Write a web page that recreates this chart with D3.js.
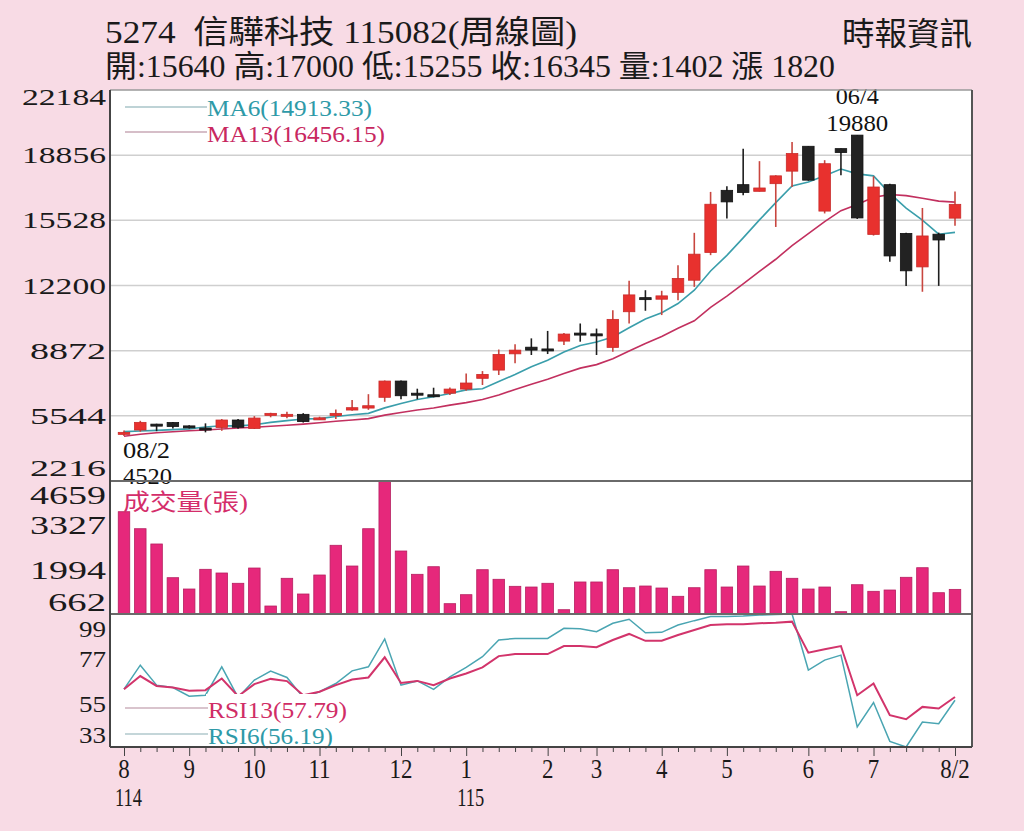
<!DOCTYPE html>
<html>
<head>
<meta charset="utf-8">
<script src="https://d3js.org/d3.v7.min.js"></script>
<style>
  body { margin: 0; background: #f8dbe5; }
  svg { display: block; }
  text { font-family: "Liberation Serif", "Noto Sans CJK TC", serif; }
</style>
</head>
<body>
<div class="chart"></div>
<script>
// weekly bars, 114/08 week 2 -> 115/08 week 2
var weeks = ["114/08/2","114/08/3","114/08/4","114/08/5","114/09/1","114/09/2","114/09/3","114/09/4",
  "114/10/1","114/10/2","114/10/3","114/10/4","114/11/1","114/11/2","114/11/3","114/11/4","114/11/5",
  "114/12/1","114/12/2","114/12/3","114/12/4","115/01/1","115/01/2","115/01/3","115/01/4","115/01/5",
  "115/02/1","115/02/2","115/02/3","115/03/1","115/03/2","115/03/3","115/03/4","115/04/1","115/04/2",
  "115/04/3","115/04/4","115/05/1","115/05/2","115/05/3","115/05/4","115/05/5","115/06/1","115/06/2",
  "115/06/3","115/06/4","115/07/1","115/07/2","115/07/3","115/07/4","115/07/5","115/08/2"];

var opens = [4650,4820,5120,5200,5030,4920,4950,5330,4900,5600,5600,5620,5380,5560,5840,5940,6490,
  7320,6700,6620,6700,6910,7460,7880,8710,9050,8960,9360,9770,9730,9040,10860,11580,11500,11850,
  12470,13890,17060,17350,17010,17400,18040,19310,16000,19190,19880,14810,17350,14860,13150,14820,15640];
var highs = [4800,5290,5140,5230,5060,5160,5380,5380,5530,5700,5750,5680,5500,5870,6350,6650,7350,
  7350,6930,6980,6990,7710,7830,8930,9200,9500,9880,9780,10260,10000,10940,12440,11960,11930,13240,
  14890,16980,17270,19190,18550,17830,19530,19310,18600,19200,19880,17780,17400,14900,16160,14900,17000];
var lows = [4520,4730,4760,4900,4900,4700,4780,4880,4870,5470,5420,5200,5330,5380,5800,5850,6260,
  6390,6390,6490,6610,6830,7120,7630,8230,8650,8700,9160,9330,8650,8820,10260,10910,10690,11450,
  12130,13750,15620,16810,17000,15190,17230,17550,15880,17830,15600,14750,13410,12180,11880,12180,15255];
var closes = [4700,5210,5050,5000,4950,4900,5330,4960,5430,5670,5620,5250,5440,5670,5960,6060,7320,
  6570,6690,6600,6910,7220,7660,8680,8900,8900,8910,9720,9740,9700,10470,11720,11560,11670,12560,
  13800,16350,16470,16950,17180,17800,18940,17580,18420,18990,15650,17230,13710,12950,14730,14525,16345];

var volumes = [3736,3225,2766,1753,1413,2005,1894,1585,2044,902,1735,1263,1834,2727,2104,3225,4659,
  2555,1855,2083,972,1242,1993,1705,1494,1473,1585,791,1624,1624,1993,1452,1503,1443,1194,1452,1993,
  1473,2104,1503,1945,1735,1413,1473,731,1542,1344,1383,1765,2053,1302,1402];

var ma6 = [4740,4770,4800,4840,4880,4970,5040,5030,5090,5210,5300,5380,5400,5510,5600,5670,5950,
  6170,6380,6520,6680,6870,6930,7300,7650,8050,8380,8800,9140,9310,9570,10040,10490,10810,11280,
  11960,12940,13740,14630,15550,16430,17280,17490,17810,18150,17900,17800,16900,16150,15540,14820,14913.33];
var ma13 = [4500,4600,4680,4730,4780,4820,4870,4920,4960,5010,5060,5120,5190,5270,5330,5400,5580,
  5710,5840,5940,6090,6220,6380,6610,6890,7160,7410,7700,7980,8160,8460,8850,9240,9600,10020,
  10400,11080,11660,12280,12920,13540,14240,14850,15460,16020,16340,16700,16850,16790,16660,16510,16456.15];

var rsi6 = [61.7,73.6,63.7,62.5,58.2,58.7,72.8,57.6,66.2,70.7,67.5,57.6,60.4,64.5,70.8,72.8,86.6,
  63.7,65.8,61.6,67.8,72.5,77.8,86.1,86.9,86.9,86.9,91.9,91.7,90.2,94.4,96.4,89.7,89.9,93.5,95.7,
  97.7,97.7,98.0,98.5,98.7,99.0,71.2,76.1,78.6,43.0,55.1,35.8,33.0,45.4,44.6,56.19];
var rsi13 = [61.7,68.2,63.3,62.5,60.9,61.2,67.0,58.2,64.2,66.8,65.7,58.7,60.4,63.7,66.5,67.5,77.5,
  64.8,65.8,63.7,67.0,69.5,72.5,78.1,79.1,79.1,79.1,83.1,83.1,82.5,86.1,89.1,85.7,85.7,88.6,91.1,
  93.5,93.9,93.9,94.4,94.7,95.2,79.8,81.5,83.1,58.7,64.5,48.8,46.8,52.9,52.1,57.79];

var priceTicks = [2216, 5544, 8872, 12200, 15528, 18856, 22184];
var volTicks = [662, 1994, 3327, 4659];
var rsiTicks = [33, 55, 77, 99];

// month labels under the axis
var monthWeeks = ["114/08/2","114/09/1","114/10/1","114/11/1","114/12/1","115/01/1","115/02/1",
  "115/03/1","115/04/1","115/05/1","115/06/1","115/07/1","115/08/2"];
var monthLabels = ["8","9","10","11","12","1","2","3","4","5","6","7","8/2"];
var yearWeeks = ["114/08/2","115/01/1"];
var yearLabels = ["114","115"];

var svgWidth = 1024;
var svgHeight = 831;

var plot = { left: 110, right: 972, top: 90 };
var panels = {
  price: { top: 90, bottom: 481 },
  vol: { top: 481, bottom: 614 },
  rsi: { top: 614, bottom: 747 }
};

var svg = d3.select(".chart")
  .append("svg")
  .attr("width", svgWidth)
  .attr("height", svgHeight);

svg.append("rect")
  .attr("width", svgWidth)
  .attr("height", svgHeight)
  .attr("fill", "#f8dbe5");

svg.append("rect")
  .attr("x", plot.left)
  .attr("y", plot.top)
  .attr("width", plot.right - plot.left)
  .attr("height", panels.rsi.bottom - plot.top)
  .attr("fill", "#fff");

// scales
var x = d3.scalePoint().domain(weeks).range([124, 955]);
var yPrice = d3.scaleLinear().domain([2216, 22184]).range([panels.price.bottom, panels.price.top]);
var yVol = d3.scaleLinear().domain([662, 4659]).range([panels.vol.bottom, panels.vol.top]);
var yRsi = d3.scaleLinear().domain([33, 99]).range([panels.rsi.bottom, panels.rsi.top]);

var candleW = 11.5;

// clip paths for lines
var defs = svg.append("defs");
Object.keys(panels).forEach(function(k) {
  defs.append("clipPath").attr("id", "clip-" + k)
    .append("rect")
    .attr("x", plot.left)
    .attr("y", panels[k].top)
    .attr("width", plot.right - plot.left)
    .attr("height", panels[k].bottom - panels[k].top);
});

// price grid
svg.append("g")
  .selectAll("line")
  .data(priceTicks.slice(1, -1))
  .enter()
  .append("line")
  .attr("x1", plot.left)
  .attr("x2", plot.right)
  .attr("y1", d => yPrice(d))
  .attr("y2", d => yPrice(d))
  .attr("stroke", "#cfcfcf")
  .attr("stroke-width", 1.5);

// header
function fitText(g, str, xPos, yPos, size, len, color, anchor) {
  return g.append("text")
    .attr("x", xPos)
    .attr("y", yPos)
    .attr("font-size", size)
    .attr("fill", color || "#1a1a1a")
    .attr("text-anchor", anchor || "start")
    .attr("textLength", len)
    .attr("lengthAdjust", "spacingAndGlyphs")
    .text(str);
}

fitText(svg, "5274\u00a0\u00a0信驊科技 115082(周線圖)", 105, 43, 32, 472);
fitText(svg, "時報資訊", 842, 45, 32, 130);
fitText(svg, "開:" + opens[51] + " 高:" + highs[51] + " 低:" + lows[51] + " 收:" + closes[51] +
  " 量:" + volumes[51] + " 漲 1820", 105, 77, 31, 730);

// moving averages
var priceG = svg.append("g").attr("clip-path", "url(#clip-price)");

var line = function(values, scale) {
  return d3.line()
    .x((d, i) => x(weeks[i]))
    .y(d => scale(d))(values);
};

priceG.append("path")
  .attr("d", line(ma13, yPrice))
  .attr("fill", "none")
  .attr("stroke", "#c2305f")
  .attr("stroke-width", 1.6);

priceG.append("path")
  .attr("d", line(ma6, yPrice))
  .attr("fill", "none")
  .attr("stroke", "#3a9eab")
  .attr("stroke-width", 1.6);

// candles
var candles = priceG.selectAll(".candle")
  .data(weeks.map((w, i) => ({ w: w, o: opens[i], h: highs[i], l: lows[i], c: closes[i] })))
  .enter()
  .append("g")
  .attr("class", "candle");

candles.append("line")
  .attr("x1", d => x(d.w))
  .attr("x2", d => x(d.w))
  .attr("y1", d => yPrice(d.h))
  .attr("y2", d => yPrice(d.l))
  .attr("stroke", d => d.c >= d.o ? "#c8463f" : "#1e1e1e")
  .attr("stroke-width", 1.6);

candles.append("rect")
  .attr("x", d => x(d.w) - candleW / 2)
  .attr("width", candleW)
  .attr("y", d => yPrice(Math.max(d.o, d.c)))
  .attr("height", d => Math.max(2, Math.abs(yPrice(d.o) - yPrice(d.c))))
  .attr("fill", d => d.c >= d.o ? "#e8312e" : "#222")
  .attr("stroke", d => d.c >= d.o ? "#c92b2a" : "#111")
  .attr("stroke-width", 0.8);

// price legend
svg.append("line").attr("x1", 125).attr("x2", 207).attr("y1", 107).attr("y2", 107)
  .attr("stroke", "#a9c4c8").attr("stroke-width", 1.5);
svg.append("line").attr("x1", 125).attr("x2", 207).attr("y1", 132).attr("y2", 132)
  .attr("stroke", "#c9a9b6").attr("stroke-width", 1.5);
fitText(svg, "MA6(" + ma6[51].toFixed(2) + ")", 207, 116, 24, 165, "#2e9aa8");
fitText(svg, "MA13(" + ma13[51].toFixed(2) + ")", 207, 142, 24, 178, "#c8285f");

// high / low notes
var hiIdx = highs.indexOf(d3.max(highs));
var loIdx = lows.indexOf(d3.min(lows));
fitText(svg, weeks[hiIdx].slice(4), x(weeks[hiIdx]), 104, 24, 43, "#111", "middle");
fitText(svg, String(highs[hiIdx]), x(weeks[hiIdx]), 131, 24, 62, "#111", "middle");
fitText(svg, weeks[loIdx].slice(4), 123, 458, 23, 47, "#111");
fitText(svg, String(lows[loIdx]), 123, 484, 23, 49, "#111");

// volume bars
svg.append("g")
  .attr("clip-path", "url(#clip-vol)")
  .selectAll("rect")
  .data(volumes)
  .enter()
  .append("rect")
  .attr("x", (d, i) => x(weeks[i]) - candleW / 2)
  .attr("width", candleW)
  .attr("y", d => yVol(d))
  .attr("height", d => yVol(662) - yVol(d))
  .attr("fill", "#e6287b")
  .attr("stroke", "#b61f60")
  .attr("stroke-width", 0.8);

fitText(svg, "成交量(張)", 123, 510, 23, 125, "#d42d6a");

// rsi lines
var rsiG = svg.append("g").attr("clip-path", "url(#clip-rsi)");

rsiG.append("path")
  .attr("d", line(rsi6, yRsi))
  .attr("fill", "none")
  .attr("stroke", "#4aa5b2")
  .attr("stroke-width", 1.5);

rsiG.append("path")
  .attr("d", line(rsi13, yRsi))
  .attr("fill", "none")
  .attr("stroke", "#d2346b")
  .attr("stroke-width", 2);

// rsi legend sits on a white box
svg.append("rect").attr("x", 206).attr("y", 694).attr("width", 143).attr("height", 52).attr("fill", "#fff");
svg.append("line").attr("x1", 125).attr("x2", 208).attr("y1", 708).attr("y2", 708)
  .attr("stroke", "#cdb0bc").attr("stroke-width", 1.5);
svg.append("line").attr("x1", 125).attr("x2", 208).attr("y1", 734).attr("y2", 734)
  .attr("stroke", "#b0c8cc").attr("stroke-width", 1.5);
fitText(svg, "RSI13(" + rsi13[51].toFixed(2) + ")", 208, 718, 23, 139, "#d02d66");
fitText(svg, "RSI6(" + rsi6[51].toFixed(2) + ")", 208, 744, 23, 125, "#2e9aa8");

// panel separators and frame
[panels.price.bottom, panels.vol.bottom].forEach(function(yy) {
  svg.append("line")
    .attr("x1", plot.left).attr("x2", plot.right)
    .attr("y1", yy).attr("y2", yy)
    .attr("stroke", "#6a6a6a")
    .attr("stroke-width", 2);
});

svg.append("line").attr("x1", plot.left).attr("x2", plot.right).attr("y1", plot.top).attr("y2", plot.top)
  .attr("stroke", "#9a9a9a").attr("stroke-width", 1.5);
svg.append("line").attr("x1", plot.right).attr("x2", plot.right).attr("y1", plot.top).attr("y2", panels.rsi.bottom)
  .attr("stroke", "#555").attr("stroke-width", 2);
svg.append("line").attr("x1", plot.left).attr("x2", plot.left).attr("y1", plot.top).attr("y2", panels.rsi.bottom)
  .attr("stroke", "#444").attr("stroke-width", 2);

// x axis: a tick for every week, longer ones at month starts
var xAxis = svg.append("g")
  .attr("transform", `translate(0, ${panels.rsi.bottom})`)
  .call(d3.axisBottom(x).tickValues(weeks).tickSize(5).tickFormat(""));
xAxis.select(".domain")
  .attr("d", `M${plot.left},0H${plot.right}`)
  .attr("stroke", "#444")
  .attr("stroke-width", 2);
xAxis.selectAll(".tick line")
  .attr("stroke", "#444")
  .attr("y2", d => monthWeeks.indexOf(d) >= 0 ? 9 : 5);

svg.append("g")
  .selectAll("text")
  .data(monthWeeks)
  .enter()
  .append("text")
  .attr("x", d => x(d))
  .attr("y", 778)
  .attr("text-anchor", "middle")
  .attr("font-size", 27)
  .attr("fill", "#1a1a1a")
  .attr("transform", d => `translate(${x(d)},0) scale(0.85,1) translate(${-x(d)},0)`)
  .text((d, i) => monthLabels[i]);

svg.append("g")
  .selectAll("text")
  .data(yearWeeks)
  .enter()
  .append("text")
  .attr("x", d => x(d) - 9)
  .attr("y", 806)
  .attr("font-size", 25)
  .attr("fill", "#1a1a1a")
  .attr("textLength", 27)
  .attr("lengthAdjust", "spacingAndGlyphs")
  .text((d, i) => yearLabels[i]);

// left value labels, pushed inside the panel at the ends
var labelWidth = { 2: 27, 3: 58, 4: 76, 5: 84 };
function leftLabels(ticks, scale, panel, size, lift, topPad, botPad) {
  svg.append("g")
    .selectAll("text")
    .data(ticks)
    .enter()
    .append("text")
    .attr("x", d => 106 - labelWidth[String(d).length])
    .attr("y", d => Math.min(panel.bottom - botPad, Math.max(panel.top + topPad, scale(d) + lift)))
    .attr("font-size", size)
    .attr("fill", "#1a1a1a")
    .attr("textLength", d => labelWidth[String(d).length])
    .attr("lengthAdjust", "spacingAndGlyphs")
    .text(d => d);
}
leftLabels(priceTicks, yPrice, panels.price, 23, 8, 15, 5);
leftLabels(volTicks, yVol, panels.vol, 25, 9, 23, 3);
leftLabels(rsiTicks, yRsi, panels.rsi, 24, 9, 23, 4);
</script>
</body>
</html>
